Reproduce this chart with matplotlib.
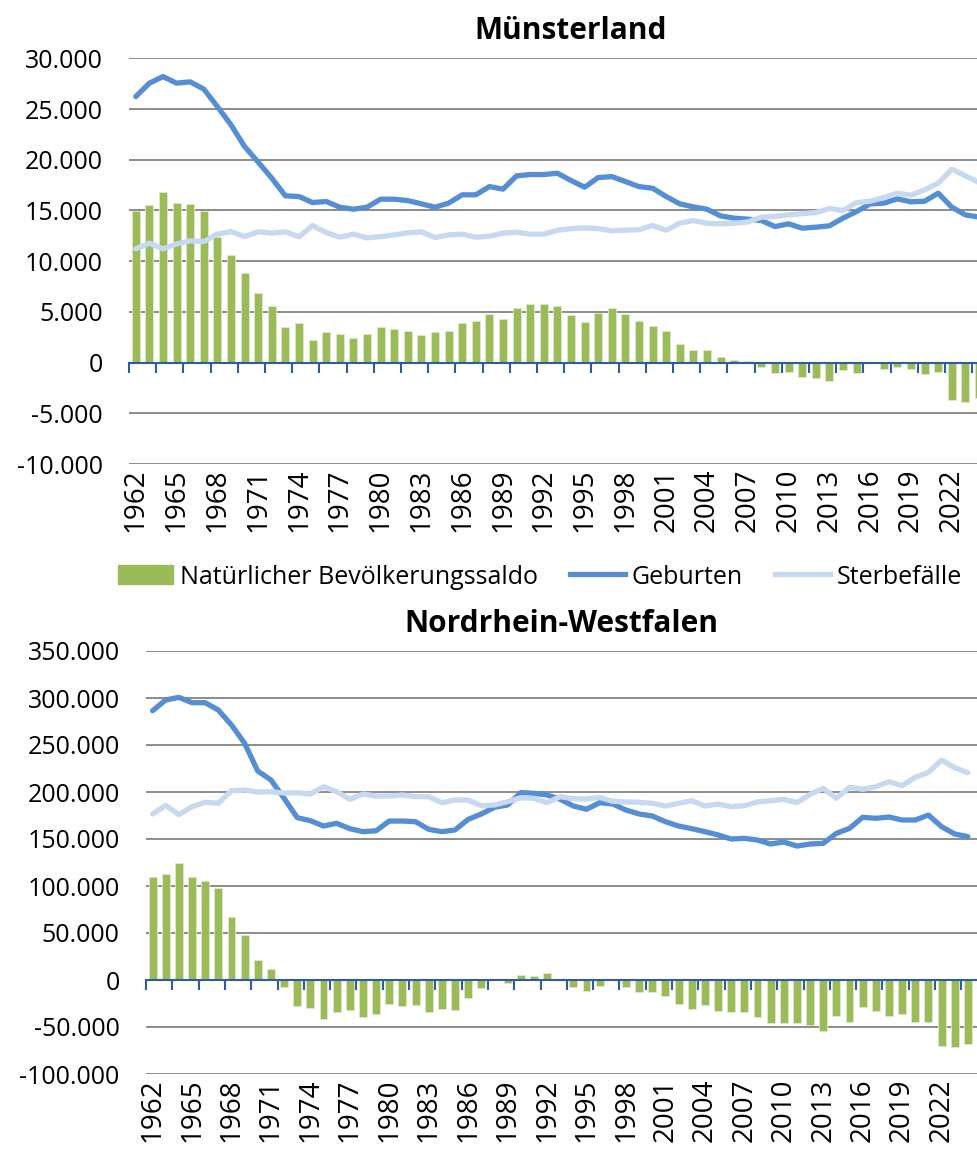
import matplotlib
matplotlib.use("Agg")
import matplotlib.pyplot as plt
from matplotlib.lines import Line2D
from matplotlib.patches import Patch
from matplotlib.ticker import FuncFormatter
import numpy as np

plt.rcParams["font.family"] = ["Open Sans", "DejaVu Sans"]

GREEN = "#9BBB59"
BLUE = "#558ED5"
LIGHT = "#C6D9F1"
AXIS_BLUE = "#2E5C9E"
GRID = "#8c8c8c"

years = list(range(1962, 2025))

# Münsterland
ms_saldo = [14900, 15580, 16860, 15750, 15650, 14930, 12420, 10620, 8840, 6870,
            5590, 3520, 3880, 2200, 3030, 2830, 2400, 2830, 3520, 3350,
            3090, 2700, 3000, 3090, 3880, 4110, 4800, 4310, 5390, 5790,
            5790, 5560, 4700, 3980, 4930, 5390, 4830, 4140, 3620, 3160,
            1880, 1240, 1280, 560, 270, 170, -450, -1050, -950, -1410,
            -1480, -1770, -750, -990, -50, -620, -460, -620, -1080, -950,
            -3680, -3900, -3450]
ms_geburten = [26230, 27550, 28200, 27550, 27680, 26960, 25240, 23440, 21300, 19760,
               18180, 16440, 16370, 15780, 15880, 15320, 15120, 15320, 16110, 16110,
               15970, 15650, 15320, 15720, 16540, 16540, 17350, 17100, 18410, 18540,
               18540, 18670, 17950, 17290, 18240, 18340, 17850, 17350, 17190, 16370,
               15650, 15350, 15120, 14460, 14240, 14140, 14000, 13410, 13680, 13250,
               13350, 13480, 14240, 14890, 15650, 15720, 16140, 15850, 15910, 16700,
               15320, 14560, 14340]
ms_sterbefaelle = [11210, 11770, 11210, 11700, 12000, 11930, 12660, 12920, 12420, 12890,
                   12760, 12890, 12400, 13510, 12820, 12360, 12660, 12300, 12420, 12590,
                   12790, 12890, 12330, 12590, 12660, 12360, 12460, 12760, 12850, 12660,
                   12660, 13050, 13210, 13280, 13210, 12990, 13050, 13110, 13510, 13050,
                   13740, 14000, 13740, 13680, 13740, 13870, 14340, 14400, 14560, 14690,
                   14790, 15190, 14990, 15780, 15910, 16270, 16700, 16500, 17030, 17690,
                   19070, 18410, 17750]

# Nordrhein-Westfalen
nrw_saldo = [109600, 112400, 124800, 109200, 105300, 97500, 67000, 48200, 20900, 11700,
             -7800, -27300, -29400, -41100, -34000, -31900, -39000, -36200, -25900, -27300,
             -26200, -33700, -30500, -31600, -19500, -8900, 0, -3500, 5700, 4600,
             7800, 0, -7100, -11300, -6400, 0, -7100, -12400, -13100, -17400,
             -25200, -31200, -26600, -33000, -33700, -33700, -39700, -46100, -45400, -46100,
             -48200, -53900, -37900, -44300, -29100, -33000, -38700, -36200, -44700, -45000,
             -70200, -70900, -67700]
nrw_geburten = [286500, 297900, 300700, 295000, 295000, 287200, 271300, 251800, 222300, 212800,
                193300, 172700, 169500, 163800, 166700, 161000, 157800, 158800, 169100, 169100,
                168400, 160300, 157800, 159600, 170900, 176600, 183700, 186200, 199300, 198600,
                196800, 192200, 185100, 181600, 188600, 187200, 180800, 176600, 174500, 168400,
                163800, 161000, 157800, 154300, 150000, 150700, 148900, 144700, 146800, 142500,
                144700, 145400, 156000, 161300, 173100, 172000, 173400, 170200, 170200, 175500,
                163100, 155300, 152500]
nrw_sterbefaelle = [176600, 185800, 175900, 184400, 189000, 188000, 201400, 202100, 200000, 200300,
                    198900, 199200, 197900, 205600, 200300, 192200, 197900, 195700, 195700, 196800,
                    195000, 195000, 188600, 191500, 191500, 185400, 186200, 189700, 193900, 193200,
                    188600, 195000, 192900, 192500, 194300, 190100, 189400, 189000, 188000, 185100,
                    188000, 190700, 185100, 187200, 184400, 185400, 189400, 190700, 192200, 188600,
                    197500, 203900, 193300, 205000, 202900, 205600, 211000, 206700, 215600, 220900,
                    234000, 225800, 220500]


def de_fmt(v, _):
    return f"{v:,.0f}".replace(",", ".")


def draw(ax, saldo, geburten, sterbe, ylim, ystep, xmax, title, title_x):
    x = np.arange(len(years))
    ax.set_axisbelow(True)
    ax.yaxis.grid(True, color=GRID, lw=1.4)
    ax.bar(x, saldo, width=0.6, color=GREEN, edgecolor="#dfe9cc", lw=0.6, zorder=2)
    ax.plot(x, geburten, color=BLUE, lw=3.8, zorder=3, solid_joinstyle="round",
            solid_capstyle="round")
    ax.plot(x, sterbe, color=LIGHT, lw=3.8, zorder=4, solid_joinstyle="round",
            solid_capstyle="round")
    ax.set_xlim(-0.5, xmax)
    ax.set_ylim(*ylim)
    ax.set_yticks(np.arange(ylim[0], ylim[1] + 1, ystep))
    ax.yaxis.set_major_formatter(FuncFormatter(de_fmt))
    ax.tick_params(axis="y", length=0, pad=19, labelsize=18)
    for s in ["top", "right", "left"]:
        ax.spines[s].set_visible(False)
    ax.spines["bottom"].set_position(("data", 0))
    ax.spines["bottom"].set_color(AXIS_BLUE)
    ax.spines["bottom"].set_linewidth(1.5)
    ax.spines["bottom"].set_zorder(5)
    ax.set_xticks(np.arange(-0.5, len(years), 2))
    ax.tick_params(axis="x", length=7, width=1.5, color=AXIS_BLUE,
                   labelbottom=False, direction="out")
    sec = ax.secondary_xaxis(0.0)
    sec.set_xticks(x[::3], labels=[str(y) for y in years[::3]], rotation=90)
    sec.tick_params(length=0, labelsize=20, pad=3)
    sec.spines["bottom"].set_visible(False)
    ax.set_title(title, fontsize=21.5, fontweight="bold", x=title_x, pad=14)


fig = plt.figure(figsize=(9.77, 11.51), dpi=100)
ax1 = fig.add_axes([129 / 977, 1 - 464 / 1151, 848 / 977, (464 - 58.3) / 1151])
ax2 = fig.add_axes([146 / 977, 1 - 1074 / 1151, 831 / 977, (1074 - 651) / 1151])

draw(ax1, ms_saldo, ms_geburten, ms_sterbefaelle, (-10000, 30000), 5000,
     -0.5 + 848 / 13.6, "Münsterland", 0.521)
draw(ax2, nrw_saldo, nrw_geburten, nrw_sterbefaelle, (-100000, 350000), 50000,
     -0.5 + 831 / 13.15, "Nordrhein-Westfalen", 0.5)

handles = [Patch(color=GREEN), Line2D([], [], color=BLUE, lw=3.8),
           Line2D([], [], color=LIGHT, lw=3.8)]
labels = ["Natürlicher Bevölkerungssaldo", "Geburten", "Sterbefälle"]
fig.legend(handles, labels, loc="center", bbox_to_anchor=(540 / 977, 1 - 577 / 1151),
           ncol=3, frameon=False, fontsize=18, handlelength=2.2, handletextpad=0.25,
           columnspacing=1.3, handleheight=0.8)

fig.savefig("out.png", dpi=100)
